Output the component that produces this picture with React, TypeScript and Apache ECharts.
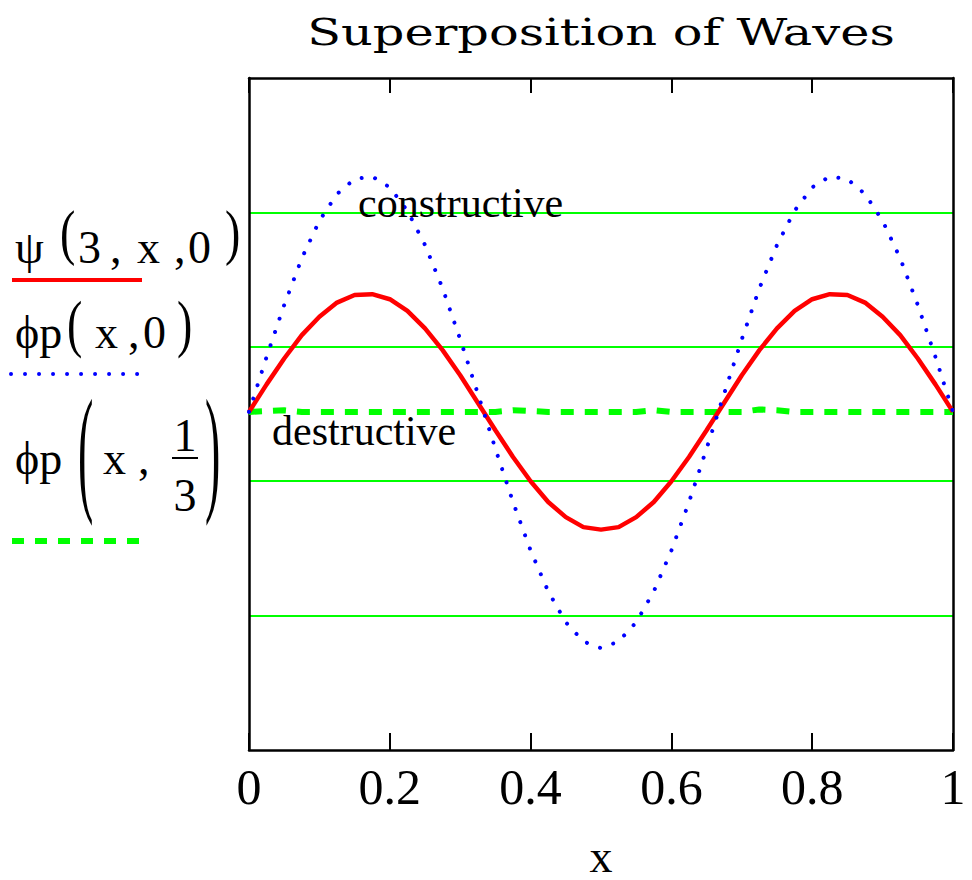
import React, { useEffect, useRef } from "react";
import * as echarts from "echarts";

const xValues = [
  0, 0.025, 0.05, 0.075, 0.1, 0.125, 0.15, 0.175, 0.2, 0.225, 0.25, 0.275, 0.3, 0.325, 0.35, 0.375, 0.4,
  0.425, 0.45, 0.475, 0.5, 0.525, 0.55, 0.575, 0.6, 0.625, 0.65, 0.675, 0.7, 0.725, 0.75, 0.775, 0.8,
  0.825, 0.85, 0.875, 0.9, 0.925, 0.95, 0.975, 1,
];

// ψ(3, x, 0)
const psi3 = [
  0, 0.33, 0.64, 0.92, 1.14, 1.31, 1.4, 1.41, 1.35, 1.21, 1.0, 0.74, 0.44, 0.11, -0.22, -0.54, -0.83,
  -1.08, -1.26, -1.38, -1.41, -1.38, -1.26, -1.08, -0.83, -0.54, -0.22, 0.11, 0.44, 0.74, 1.0, 1.21, 1.35,
  1.41, 1.4, 1.31, 1.14, 0.92, 0.64, 0.33, 0,
];

// φp(x, 0)
const phiP0 = [
  0, 0.66, 1.28, 1.84, 2.29, 2.61, 2.79, 2.82, 2.69, 2.41, 2.0, 1.48, 0.87, 0.22, -0.44, -1.08, -1.66,
  -2.15, -2.52, -2.75, -2.83, -2.75, -2.52, -2.15, -1.66, -1.08, -0.44, 0.22, 0.87, 1.48, 2.0, 2.41, 2.69,
  2.82, 2.79, 2.61, 2.29, 1.84, 1.28, 0.66, 0,
];

// φp(x, 1/3)
const phiP13 = [
  0, 0.01, 0.02, 0, 0, 0, 0, 0, 0, 0, 0, 0, 0, 0, 0, 0.02, 0.01,
  0, 0, 0, 0, 0, 0, 0.02, 0, 0, 0, 0, 0, 0.03, 0.02, 0, 0,
  0, 0, 0, 0, 0, 0, 0, 0,
];

const xTickLabels = ["0", "0.2", "0.4", "0.6", "0.8", "1"];
const xTickValues = [0, 0.2, 0.4, 0.6, 0.8, 1];

const SERIF = "'Liberation Serif', 'Times New Roman', serif";

function pairs(ys: number[]) {
  return xValues.map((x, i) => [x, ys[i]]);
}

function txt(text: string, x: number, y: number, size: number, opts: any = {}) {
  return {
    type: "text",
    x,
    y,
    scaleX: opts.scaleX ?? 1,
    scaleY: opts.scaleY ?? 1,
    z: 10,
    style: {
      text,
      font: `${size}px ${opts.family ?? SERIF}`,
      fill: "#000",
      textAlign: opts.align ?? "left",
      textVerticalAlign: "middle",
      align: opts.align ?? "left",
      verticalAlign: "middle",
    },
  };
}

export default function App() {
  const ref = useRef<HTMLDivElement>(null);
  useEffect(() => {
    if (!ref.current) return;
    const chart = echarts.init(ref.current, undefined, { renderer: "svg" });
    const axisLine = { show: true, onZero: false, lineStyle: { color: "#000", width: 2.5 } };
    chart.setOption({
      animation: false,
      backgroundColor: "#fff",
      grid: {
        left: 249,
        top: 78,
        width: 704,
        height: 672,
        containLabel: false,
        outerBoundsMode: "none",
      },
      xAxis: [
        {
          type: "value",
          position: "bottom",
          min: 0,
          max: 1,
          interval: 0.2,
          axisLine,
          axisTick: { show: true, inside: true, length: 17, lineStyle: { color: "#000", width: 2 } },
          axisLabel: {
            margin: 12,
            fontFamily: SERIF,
            fontSize: 50,
            color: "#000",
            formatter: (v: number) => {
              const i = xTickValues.findIndex((t) => Math.abs(t - v) < 1e-6);
              return i >= 0 ? xTickLabels[i] : "";
            },
          },
          splitLine: { show: false },
          name: "x",
          nameLocation: "middle",
          nameGap: 83,
          nameTextStyle: { fontFamily: SERIF, fontSize: 46, lineHeight: 46, color: "#000" },
        },
        {
          type: "value",
          position: "top",
          min: 0,
          max: 1,
          interval: 0.2,
          axisLine,
          axisTick: { show: true, inside: true, length: 15, lineStyle: { color: "#000", width: 2 } },
          axisLabel: { show: false },
          splitLine: { show: false },
        },
      ],
      yAxis: [
        {
          type: "value",
          min: -4.05,
          max: 4,
          show: false,
          splitLine: { show: false },
        },
        {
          type: "value",
          position: "left",
          min: 0,
          max: 5,
          interval: 1,
          axisLine,
          axisTick: { show: false },
          axisLabel: { show: false },
          splitLine: {
            show: true,
            showMinLine: false,
            showMaxLine: false,
            lineStyle: { color: "#00ff00", width: 2, type: "solid" },
          },
        },
        {
          type: "value",
          position: "right",
          min: 0,
          max: 5,
          interval: 1,
          axisLine,
          axisTick: { show: false },
          axisLabel: { show: false },
          splitLine: { show: false },
        },
      ],
      series: [
        {
          name: "φp(x, 1/3)",
          type: "line",
          xAxisIndex: 0,
          yAxisIndex: 0,
          data: pairs(phiP13),
          showSymbol: false,
          lineStyle: { color: "#00ff00", width: 6, type: [13, 11] },
          z: 2,
        },
        {
          name: "ψ(3, x, 0)",
          type: "line",
          xAxisIndex: 0,
          yAxisIndex: 0,
          data: pairs(psi3),
          showSymbol: false,
          lineStyle: { color: "#ff0000", width: 4.5, type: "solid" },
          z: 3,
        },
        {
          name: "φp(x, 0)",
          type: "line",
          xAxisIndex: 0,
          yAxisIndex: 0,
          data: pairs(phiP0),
          showSymbol: false,
          lineStyle: { color: "#0000ff", width: 4, type: [0.01, 14], cap: "round" },
          z: 4,
        },
      ],
      graphic: [
        // title
        txt("Superposition of Waves", 601, 32, 38, {
          align: "center",
          scaleX: 1.3,
          family: "'DejaVu Serif', serif",
        }),
        // annotations
        txt("constructive", 358, 203, 42),
        txt("destructive", 272, 431, 42),
        // legend 1: ψ(3, x, 0)
        txt("ψ", 15, 247, 46),
        txt("(", 60, 233, 46, { scaleY: 1.31 }),
        txt("3", 78, 247, 46),
        txt(",", 110, 247, 46),
        txt("x", 137, 247, 46),
        txt(",", 174, 247, 46),
        txt("0", 188, 247, 46),
        txt(")", 225, 233, 46, { scaleY: 1.31 }),
        {
          type: "line",
          shape: { x1: 12, y1: 280, x2: 142, y2: 280 },
          style: { stroke: "#ff0000", lineWidth: 4 },
        },
        // legend 2: φp(x, 0)
        txt("ϕp", 15, 332, 46),
        txt("(", 67, 324, 46, { scaleY: 1.36 }),
        txt("x", 95, 332, 46),
        txt(",", 128, 332, 46),
        txt("0", 143, 332, 46),
        txt(")", 177, 324, 46, { scaleY: 1.36 }),
        {
          type: "line",
          shape: { x1: 11, y1: 374, x2: 140, y2: 374 },
          style: { stroke: "#0000ff", lineWidth: 4, lineDash: [0.01, 14], lineCap: "round" },
        },
        // legend 3: φp(x, 1/3)
        txt("ϕp", 15, 458, 46),
        txt("(", 78, 449, 46, { scaleY: 3.05 }),
        txt("x", 103, 458, 46),
        txt(",", 138, 458, 46),
        txt("1", 185, 435, 46, { align: "center" }),
        {
          type: "line",
          shape: { x1: 172, y1: 458, x2: 198, y2: 458 },
          style: { stroke: "#000", lineWidth: 2 },
        },
        txt("3", 185, 495, 46, { align: "center" }),
        txt(")", 205, 449, 46, { scaleY: 3.05 }),
        {
          type: "line",
          shape: { x1: 12, y1: 541, x2: 142, y2: 541 },
          style: { stroke: "#00ff00", lineWidth: 6, lineDash: [12, 11] },
        },
      ],
    });
    return () => chart.dispose();
  }, []);
  return (
    <div
      ref={ref}
      style={{ position: "absolute", left: 0, top: 0, width: 972, height: 880 }}
    />
  );
}
